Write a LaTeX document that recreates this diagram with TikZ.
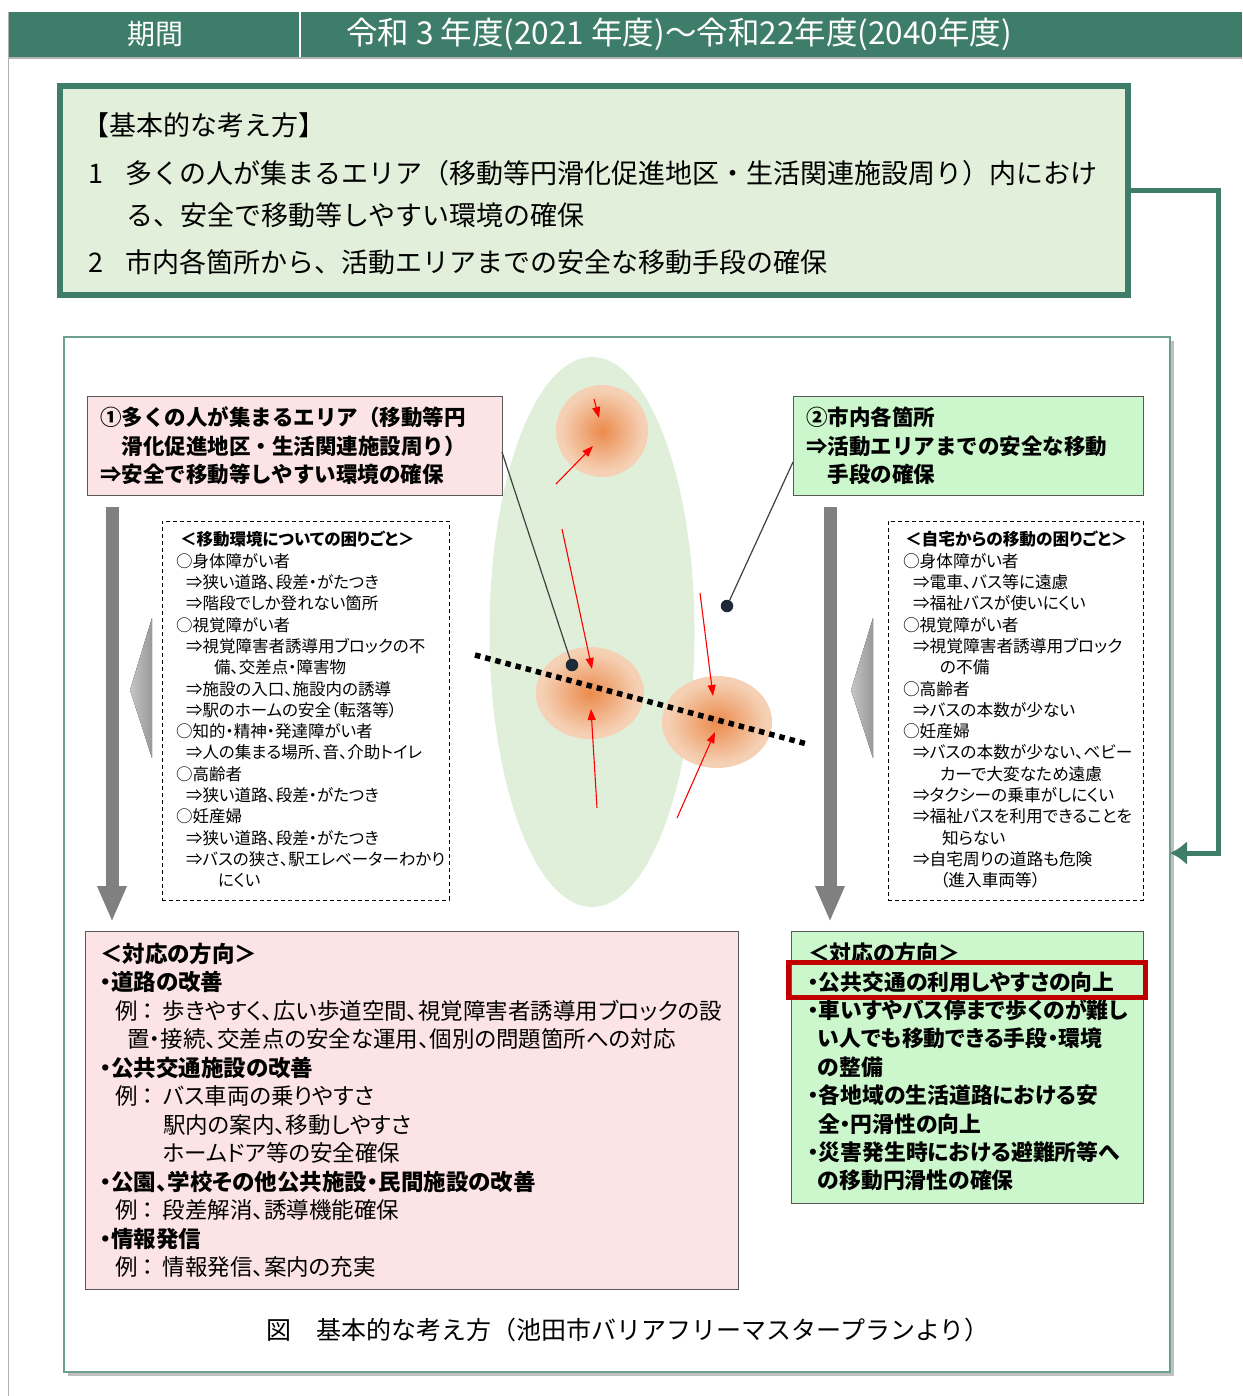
\documentclass[tikz,border=0pt]{standalone}
\usepackage{fontspec}
\newfontfamily\jpf{Noto Sans CJK JP}
\newfontfamily\jpp{Noto Sans CJK JP}[RawFeature={+palt}]
\usetikzlibrary{arrows.meta,shadows,shapes.geometric}
\definecolor{hdrgreen}{HTML}{3D7D69}
\definecolor{lgreen}{HTML}{E2EFDA}
\definecolor{ellgreen}{HTML}{E0EFD9}
\definecolor{pinkA}{HTML}{FCE4E6}
\definecolor{greenB}{HTML}{CCF7CC}
\definecolor{boxline}{HTML}{595959}
\definecolor{framegreen}{HTML}{6E9F8A}
\definecolor{greyarrow}{HTML}{808080}
\definecolor{orC}{HTML}{EC8A4C}
\definecolor{peach}{HTML}{F5D3B8}
\definecolor{hiRed}{HTML}{C00000}
\definecolor{dotc}{HTML}{1E2A38}
\pgfdeclareradialshading{glow}{\pgfpoint{0bp}{0bp}}{color(0bp)=(orC); color(8bp)=(orC!65!peach); color(22bp)=(peach!95!orC); color(30bp)=(peach); color(50bp)=(peach)}
\tikzset{
  every node/.style={inner sep=0pt,outer sep=0pt},
  labelbox/.style={draw=boxline,line width=1pt,anchor=north west},
  dashbox/.style={draw=black,line width=0.9pt,dash pattern=on 4pt off 3pt,anchor=north west},
  redarrow/.style={draw=red,line width=1.1pt,-{Triangle[length=11pt,width=8pt]}},
  greyarrow/.style={draw=greyarrow,line width=13pt,-{Triangle[length=36pt,width=27pt]}},
  hotspot/.style={ellipse,shading=glow},
  leader/.style={draw=black!75,line width=1.2pt},
  blackdot/.style={circle,fill=dotc,minimum size=12.5pt},
  sidetri/.style={left color=gray!45,right color=gray!80,draw=none},
  txt/.style={align=left,anchor=north west,text=black}
}
\begin{document}
\begin{tikzpicture}[x=1pt,y=-1pt]
\useasboundingbox (0,0) rectangle (1242,1396);
\fill[white] (0,0) rectangle (1242,1396);

% header
\node[fill=hdrgreen,minimum width=1234pt,minimum height=45pt,anchor=north west] (header) at (8,12) {};
\draw[white,line width=2.5pt] (300,12) -- (300,57);
\node[text=white,font=\jpf\fontsize{28}{30}\selectfont] (period) at (155,34) {期間};
\node[text=white,font=\jpf\fontsize{31.5}{33}\selectfont] (years) at (679,34) {令和 3 年度(2021 年度)～令和22年度(2040年度)};
\draw[gray!60,line width=1.5pt] (8,58) -- (1242,58);
\draw[gray!60,line width=1pt] (8,12) -- (8,1396);

% top box
\node[draw=hdrgreen,line width=6pt,fill=lgreen,minimum width=1068pt,minimum height=209pt,anchor=north west] (basic) at (60,86) {};
\node[anchor=west,font=\jpf\fontsize{27}{30}\selectfont] (t0) at (82,125) {【基本的な考え方】};
\node[anchor=west,font=\jpf\fontsize{27}{30}\selectfont] (t1) at (88,173) {\makebox[38pt][l]{1}多くの人が集まるエリア（移動等円滑化促進地区・生活関連施設周り）内におけ};
\node[anchor=west,font=\jpf\fontsize{27}{30}\selectfont] (t2) at (126,215) {る、安全で移動等しやすい環境の確保};
\node[anchor=west,font=\jpf\fontsize{27}{30}\selectfont] (t3) at (88,262) {\makebox[38pt][l]{2}市内各箇所から、活動エリアまでの安全な移動手段の確保};

% figure frame
\node[draw=framegreen,line width=1.5pt,fill=white,minimum width=1106pt,minimum height=1035pt,anchor=north west,
      drop shadow={shadow xshift=4pt,shadow yshift=-4pt,opacity=0.35,fill=black!70}] (frame) at (64,337) {};

% connector top box -> frame
\coordinate (elbow) at (1218,853);
\draw[hdrgreen,line width=5pt,-{Latex[length=17pt,width=24pt]}] (basic.east) -| (elbow) -- (frame.east |- elbow);

% central area
\node[ellipse,fill=ellgreen,minimum width=205pt,minimum height=550pt] (area) at (592,632) {};
\node[hotspot,minimum width=92pt,minimum height=92pt] (c1) at (602,431) {};
\node[hotspot,minimum width=108pt,minimum height=92pt] (c2) at (590,693) {};
\node[hotspot,minimum width=110pt,minimum height=92pt] (c3) at (717,722) {};

\draw[redarrow] (594,399) -- (599,418);
\draw[redarrow] (556,484) -- (593,446);
\draw[redarrow] (562,529) -- (592,669);
\draw[redarrow] (597,808) -- (591,709);
\draw[redarrow] (700,593) -- (713,696);
\draw[redarrow] (677,818) -- (715,732);

\coordinate (dl1) at (475,655);
\coordinate (dl2) at (807,744);
\draw[black,line width=5.5pt,dash pattern=on 5.5pt off 5pt] (dl1) -- (dl2);

% label boxes
\node[labelbox,fill=pinkA,minimum width=415pt,minimum height=99pt] (area1) at (87,396) {};
\node[txt,font=\jpf\bfseries\fontsize{21.5}{28.5}\selectfont] (area1txt) at (100,407) {①多くの人が集まるエリア（移動等円\\　滑化促進地区・生活関連施設周り）\\⇒安全で移動等しやすい環境の確保};
\node[labelbox,fill=greenB,minimum width=350pt,minimum height=99pt] (area2) at (793,396) {};
\node[txt,font=\jpf\bfseries\fontsize{21.5}{28.5}\selectfont] (area2txt) at (806,407) {②市内各箇所\\⇒活動エリアまでの安全な移動\\　手段の確保};

% leaders
\node[blackdot] (dot1) at (572,665) {};
\node[blackdot] (dot2) at (727,606) {};
\draw[leader] (area1.east |- 0,452) -- (dot1);
\draw[leader] (area2.west |- 0,462) -- (dot2);

% grey arrows
\coordinate (la0) at (112,507);
\coordinate (la1) at (112,922);
\coordinate (ra0) at (830,507);
\coordinate (ra1) at (830,922);
\draw[greyarrow] (la0) -- (la1);
\draw[greyarrow] (ra0) -- (ra1);
\fill[sidetri] (130,690) -- (152,618) -- (152,758) -- cycle;
\fill[sidetri] (851,690) -- (873,618) -- (873,758) -- cycle;

% dashed boxes
\node[dashbox,minimum width=287pt,minimum height=379pt] (trouble1) at (162,521) {};
\node[txt,font=\jpp\fontsize{16.5}{21.3}\selectfont] (trouble1txt) at (176,531.5) {\hspace*{4pt}{\bfseries ＜移動環境についての困りごと＞}\\
○身体障がい者\\
\hspace*{10pt}⇒狭い道路、段差・がたつき\\
\hspace*{10pt}⇒階段でしか登れない箇所\\
○視覚障がい者\\
\hspace*{10pt}⇒視覚障害者誘導用ブロックの不\\
\hspace*{38pt}備、交差点・障害物\\
\hspace*{10pt}⇒施設の入口、施設内の誘導\\
\hspace*{10pt}⇒駅のホームの安全（転落等）\\
○知的・精神・発達障がい者\\
\hspace*{10pt}⇒人の集まる場所、音、介助トイレ\\
○高齢者\\
\hspace*{10pt}⇒狭い道路、段差・がたつき\\
○妊産婦\\
\hspace*{10pt}⇒狭い道路、段差・がたつき\\
\hspace*{10pt}⇒バスの狭さ、駅エレベーターわかり\\
\hspace*{42pt}にくい};

\node[dashbox,minimum width=255pt,minimum height=379pt] (trouble2) at (888,521) {};
\node[txt,font=\jpp\fontsize{16.7}{21.3}\selectfont] (trouble2txt) at (903,531.3) {\hspace*{2pt}{\bfseries ＜自宅からの移動の困りごと＞}\\
○身体障がい者\\
\hspace*{10pt}⇒電車、バス等に遠慮\\
\hspace*{10pt}⇒福祉バスが使いにくい\\
○視覚障がい者\\
\hspace*{10pt}⇒視覚障害者誘導用ブロック\\
\hspace*{37pt}の不備\\
○高齢者\\
\hspace*{10pt}⇒バスの本数が少ない\\
○妊産婦\\
\hspace*{10pt}⇒バスの本数が少ない、ベビー\\
\hspace*{37pt}カーで大変なため遠慮\\
\hspace*{10pt}⇒タクシーの乗車がしにくい\\
\hspace*{10pt}⇒福祉バスを利用できることを\\
\hspace*{39pt}知らない\\
\hspace*{10pt}⇒自宅周りの道路も危険\\
\hspace*{37pt}（進入車両等）};

% measures boxes
\node[labelbox,fill=pinkA,minimum width=653pt,minimum height=358pt] (measure1) at (85,931) {};
\node[txt,font=\jpp\fontsize{22.5}{28.5}\selectfont] (measure1txt) at (100,943) {{\bfseries ＜対応の方向＞}\\
{\bfseries ・道路の改善}\\
\hspace*{15pt}\makebox[48pt][l]{例\hspace{5pt}：}歩きやすく、広い歩道空間、視覚障害者誘導用ブロックの設\\
\hspace*{27pt}置・接続、交差点の安全な運用、個別の問題箇所への対応\\
{\bfseries ・公共交通施設の改善}\\
\hspace*{15pt}\makebox[48pt][l]{例\hspace{5pt}：}バス車両の乗りやすさ\\
\hspace*{63pt}駅内の案内、移動しやすさ\\
\hspace*{63pt}ホームドア等の安全確保\\
{\bfseries ・公園、学校その他公共施設・民間施設の改善}\\
\hspace*{15pt}\makebox[48pt][l]{例\hspace{5pt}：}段差解消、誘導機能確保\\
{\bfseries ・情報発信}\\
\hspace*{15pt}\makebox[48pt][l]{例\hspace{5pt}：}情報発信、案内の充実};

\node[labelbox,fill=greenB,minimum width=352pt,minimum height=272pt] (measure2) at (791,931) {};
\node[txt,font=\jpp\bfseries\fontsize{21.8}{28.4}\selectfont] (measure2txt) at (808,943) {＜対応の方向＞\\
・公共交通の利用しやすさの向上\\
・車いすやバス停まで歩くのが難し\\
\hspace*{10pt}い人でも移動できる手段・環境\\
\hspace*{10pt}の整備\\
・各地域の生活道路における安\\
\hspace*{10pt}全・円滑性の向上\\
・災害発生時における避難所等へ\\
\hspace*{10pt}の移動円滑性の確保};
\node[draw=hiRed,line width=5pt,minimum width=357pt,minimum height=35pt] (highlight) at (966.5,980) {};

% caption
\node[font=\jpf\fontsize{25}{28}\selectfont] (caption) at (628,1330) {図　基本的な考え方（池田市バリアフリーマスタープランより）};
\end{tikzpicture}
\end{document}
